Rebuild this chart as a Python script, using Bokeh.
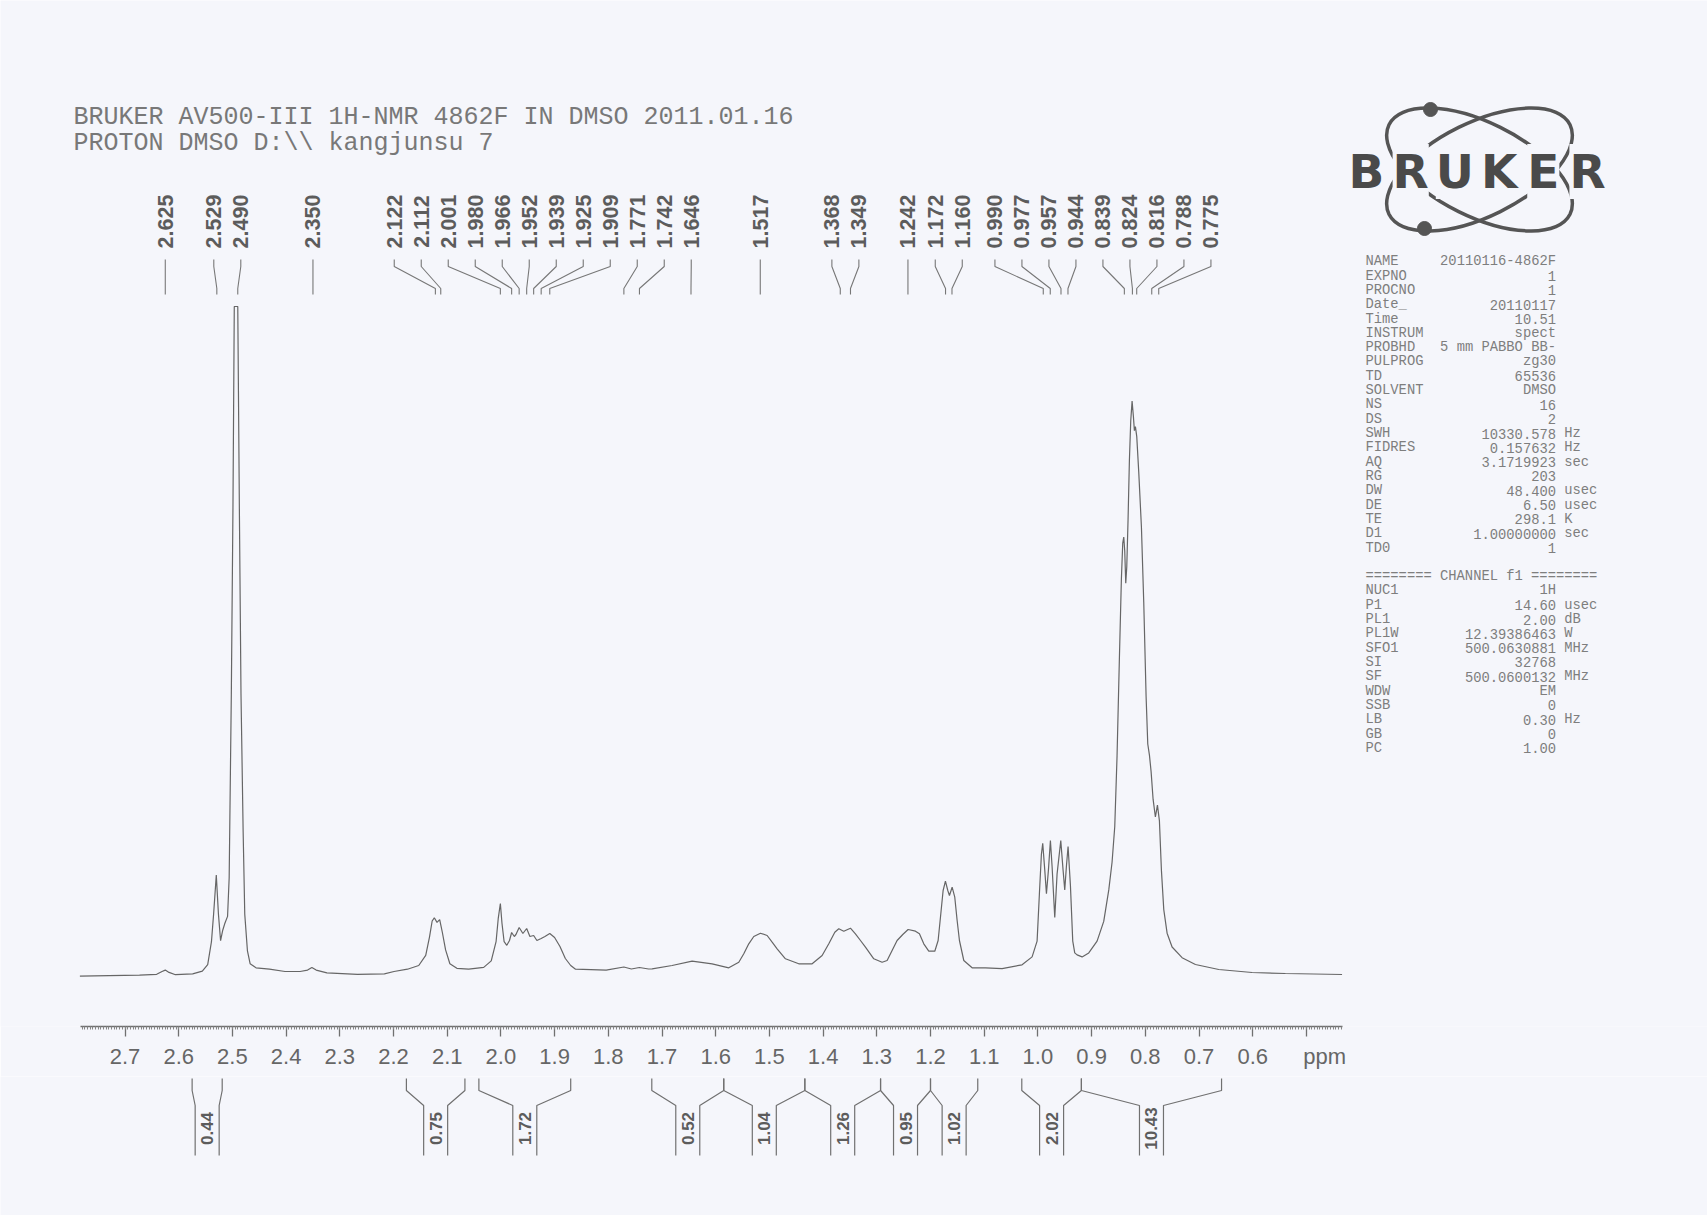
import math
import numpy as np
from bokeh.plotting import figure
from bokeh.models import Range1d, FixedTicker, Label
from bokeh.layouts import column
from bokeh.embed import file_html
from bokeh.resources import INLINE
from bokeh.core.properties import value

# ---------------- data ----------------
TITLE_LINES = ["BRUKER AV500-III 1H-NMR 4862F IN DMSO 2011.01.16",
               "PROTON DMSO D:\\\\ kangjunsu 7"]

SPEC_PPM = [2.784, 2.730, 2.673, 2.641, 2.631, 2.625, 2.618, 2.606, 2.574, 2.556,
            2.546, 2.539, 2.535, 2.530, 2.526, 2.522, 2.518, 2.514, 2.509, 2.506,
            2.502, 2.499, 2.4965, 2.490, 2.487, 2.484, 2.480, 2.477, 2.472, 2.467,
            2.456, 2.431, 2.402, 2.374, 2.360, 2.352, 2.344, 2.324, 2.267, 2.217,
            2.199, 2.174, 2.153, 2.140, 2.133, 2.128, 2.124, 2.119, 2.114, 2.109,
            2.103, 2.095, 2.082, 2.060, 2.032, 2.018, 2.009, 2.005, 2.001, 1.998,
            1.994, 1.989, 1.984, 1.980, 1.975, 1.972, 1.966, 1.959, 1.952, 1.946,
            1.939, 1.933, 1.925, 1.918, 1.909, 1.900, 1.890, 1.880, 1.870, 1.861,
            1.804, 1.771, 1.757, 1.742, 1.725,
            1.7184, 1.6812, 1.6439, 1.6067, 1.5756, 1.5570, 1.5477, 1.5384, 1.5291, 1.5167,
            1.5042, 1.4949, 1.4856, 1.4701, 1.4453, 1.4204, 1.4018, 1.3894, 1.3782, 1.3708,
            1.3615, 1.3491, 1.3398, 1.3304, 1.3211, 1.3056, 1.2901, 1.2808, 1.2715, 1.2622,
            1.2516, 1.2417, 1.2280, 1.2206, 1.2125, 1.2032, 1.1920, 1.1858, 1.1808, 1.1765,
            1.1722, 1.1678, 1.1647, 1.1597, 1.1548, 1.1504, 1.1461, 1.1380, 1.1225, 1.0977,
            1.0667, 1.0295, 1.0108, 1.0015, 0.9972, 0.9935, 0.9910, 0.9872, 0.9841, 0.9804,
            0.9767, 0.9736, 0.9686, 0.9643, 0.9574, 0.9531, 0.9500, 0.9469, 0.9438, 0.9394,
            0.9351, 0.9314, 0.9270, 0.9177, 0.9053, 0.8898, 0.8774, 0.8680, 0.8619, 0.8569,
            0.8526, 0.8482, 0.8445, 0.8420, 0.8401, 0.8383, 0.8364, 0.8345, 0.8321, 0.8296,
            0.8271, 0.8246, 0.8221, 0.8203, 0.8184, 0.8159, 0.8122, 0.8072, 0.8029, 0.7985,
            0.7954, 0.7923, 0.7892, 0.7855, 0.7812, 0.7774, 0.7737, 0.7700, 0.7656, 0.7594,
            0.7501, 0.7315, 0.7067, 0.6632, 0.6011, 0.5391, 0.4336]

SPEC_INT = [0.4, 0.9, 1.3, 2.2, 5.0, 6.4, 4.1, 1.8, 2.7, 5.4,
            11.9, 34.8, 62.4, 101.4, 62.4, 35.8, 46.3, 53.2, 60.1, 99.1,
            282.8, 466.4, 670.0, 670.0, 466.4, 282.8, 145.0, 62.4, 25.7, 12.8,
            8.7, 7.3, 5.0, 5.0, 6.4, 9.1, 6.4, 3.6, 2.2, 2.7,
            5.0, 7.3, 11.0, 21.1, 39.4, 55.5, 58.7, 54.1, 56.9, 44.0,
            26.6, 12.8, 8.2, 7.3, 9.1, 15.6, 34.8, 57.8, 73.0, 53.2,
            34.8, 31.2, 36.0, 44.0, 40.0, 42.0, 49.0, 43.0, 48.0, 40.0,
            41.0, 36.0, 38.0, 40.0, 43.0, 39.0, 30.0, 18.0, 11.0, 7.3,
            6.4, 9.5, 7.5, 9.0, 7.5,
            7.7, 11.0, 15.3, 12.7, 8.7, 14.3, 22.7, 32.7, 40.0, 43.3,
            41.0, 34.3, 27.7, 17.7, 12.7, 12.7, 21.0, 32.7, 44.3, 47.7,
            45.3, 48.3, 42.7, 36.0, 29.3, 17.7, 14.3, 16.0, 26.0, 36.0,
            42.0, 47.0, 45.3, 42.7, 32.7, 25.3, 25.3, 36.0, 62.7, 86.0,
            95.3, 86.0, 81.0, 89.3, 79.3, 56.0, 36.0, 16.0, 8.7, 8.7,
            7.8, 11.7, 19.6, 35.4, 82.7, 122.1, 133.1, 106.4, 82.7, 106.4,
            135.9, 110.3, 59.0, 102.4, 135.9, 106.4, 86.6, 110.3, 130.0, 90.6,
            35.4, 23.6, 21.6, 19.6, 23.6, 35.4, 55.1, 86.6, 114.2, 149.7,
            220.6, 319.2, 398.0, 433.5, 439.4, 425.6, 393.3, 409.8, 457.1, 516.3,
            555.7, 575.4, 559.6, 545.8, 549.8, 539.9, 504.4, 449.3, 374.4, 279.8,
            232.5, 221.4, 204.9, 177.3, 159.5, 171.4, 155.6, 106.4, 66.9, 43.3,
            29.5, 18.8, 12.0, 7.0, 4.0, 3.0, 2.0]

PEAK_LABELS = [2.625, 2.529, 2.490, 2.350, 2.122, 2.112, 2.001, 1.980, 1.966, 1.952,
               1.939, 1.925, 1.909, 1.771, 1.742, 1.646, 1.517, 1.368, 1.349, 1.242,
               1.172, 1.160, 0.990, 0.977, 0.957, 0.944, 0.839, 0.824, 0.816, 0.788,
               0.775]

INTEGRAL_START = [2.575, 2.176, 2.041, 1.719, 1.585, 1.434, 1.293, 1.200, 1.030, 0.919]
INTEGRAL_END = [2.519, 2.067, 1.870, 1.585, 1.434, 1.293, 1.200, 1.112, 0.919, 0.658]
INTEGRAL_VALUES = ["0.44", "0.75", "1.72", "0.52", "1.04", "1.26", "0.95", "1.02", "2.02", "10.43"]

AXIS_TICKS = [2.7, 2.6, 2.5, 2.4, 2.3, 2.2, 2.1, 2.0, 1.9, 1.8, 1.7, 1.6, 1.5, 1.4,
              1.3, 1.2, 1.1, 1.0, 0.9, 0.8, 0.7, 0.6, 0.5]
AXIS_UNIT = "ppm"
AXIS_TICK_LABELS = ["2.7", "2.6", "2.5", "2.4", "2.3", "2.2", "2.1", "2.0", "1.9", "1.8",
                    "1.7", "1.6", "1.5", "1.4", "1.3", "1.2", "1.1", "1.0", "0.9", "0.8",
                    "0.7", "0.6", "\u00a0" * 6 + AXIS_UNIT]
AXIS_SPAN = (0.433, 2.783)

PARAM_NAMES = ["NAME", "EXPNO", "PROCNO", "Date_", "Time", "INSTRUM", "PROBHD", "PULPROG",
               "TD", "SOLVENT", "NS", "DS", "SWH", "FIDRES", "AQ", "RG", "DW", "DE", "TE",
               "D1", "TD0"]
PARAM_VALUES = ["20110116-4862F", "1", "1", "20110117", "10.51", "spect", "5 mm PABBO BB-",
                "zg30", "65536", "DMSO", "16", "2", "10330.578", "0.157632", "3.1719923",
                "203", "48.400", "6.50", "298.1", "1.00000000", "1"]
PARAM_UNITS = ["", "", "", "", "", "", "", "", "", "", "", "", "Hz", "Hz", "sec", "",
               "usec", "usec", "K", "sec", ""]

CHANNEL_HEADER = "======== CHANNEL f1 ========"
CH_NAMES = ["NUC1", "P1", "PL1", "PL1W", "SFO1", "SI", "SF", "WDW", "SSB", "LB", "GB", "PC"]
CH_VALUES = ["1H", "14.60", "2.00", "12.39386463", "500.0630881", "32768", "500.0600132",
             "EM", "0", "0.30", "0", "1.00"]
CH_UNITS = ["", "usec", "dB", "W", "MHz", "", "MHz", "", "", "Hz", "", ""]

LOGO_TEXT = "BRUKER"

# ---------------- page geometry / style ----------------
BG = "#f5f6fb"
INK = "#666666"
PAGE_W, PAGE_H = 1707, 1215
PX_PER_PPM = 537.0
PX_AT_2P7 = 124.5
BASE_Y = 976.0
AXIS_Y = 1026
BOTTOM_BORDER = 50


def ppm_at(px):
    return 2.7 - (px - PX_AT_2P7) / PX_PER_PPM


def px_at(ppm):
    return PX_AT_2P7 + (2.7 - ppm) * PX_PER_PPM


def iy(py):
    return BASE_Y - py


def spread(pos, w):
    clusters = [[p] for p in pos]

    def bnd(c):
        m = sum(c) / len(c)
        h = (len(c) - 1) / 2.0 * w
        return m - h, m + h

    changed = True
    while changed:
        changed = False
        for j in range(len(clusters) - 1):
            if bnd(clusters[j + 1])[0] - bnd(clusters[j])[1] < w:
                clusters[j] = clusters[j] + clusters.pop(j + 1)
                changed = True
                break
    out = []
    for c in clusters:
        lo, _ = bnd(c)
        out += [lo + k * w for k in range(len(c))]
    return out


W = PAGE_W
H1 = AXIS_Y + BOTTOM_BORDER
H2 = PAGE_H - H1

xr = Range1d(ppm_at(0), ppm_at(W))

p1 = figure(width=W, height=H1, x_range=xr, y_range=Range1d(iy(AXIS_Y), iy(0)),
            output_backend="svg", toolbar_location=None, y_axis_location=None,
            min_border_left=0, min_border_right=0, min_border_top=0,
            min_border_bottom=BOTTOM_BORDER, background_fill_color=BG,
            border_fill_color=BG, outline_line_color=None)
p1.grid.visible = False

ax = p1.xaxis[0]
ax.ticker = FixedTicker(ticks=AXIS_TICKS,
                        minor_ticks=[float(v) for v in np.round(np.arange(0.435, 2.7826, 0.005), 3)])
ax.major_label_overrides = {t: l for t, l in zip(AXIS_TICKS, AXIS_TICK_LABELS)}
ax.bounds = AXIS_SPAN
ax.axis_line_color = "#707070"
ax.axis_line_width = 1.3
ax.major_tick_line_color = "#707070"
ax.major_tick_line_width = 1.3
ax.major_tick_in = 0
ax.major_tick_out = 10
ax.minor_tick_line_color = "#858585"
ax.minor_tick_in = 0
ax.minor_tick_out = 3
ax.major_label_text_font = "Liberation Sans"
ax.major_label_text_font_size = "22px"
ax.major_label_text_color = INK
ax.major_label_standoff = 7

# spectrum
p1.line(SPEC_PPM, SPEC_INT, line_color="#666666", line_width=1.2)

# header
p1.text(x=[ppm_at(73)] * 2, y=[iy(117), iy(143)], text=TITLE_LINES, text_align="left",
        text_baseline="alphabetic", text_font=value("Liberation Mono"),
        text_font_size="25px", text_color="#787878")

# peak labels
lab_px = spread([px_at(v) for v in PEAK_LABELS], 27.0)
xs = [[ppm_at(lx), ppm_at(lx), v, v] for lx, v in zip(lab_px, PEAK_LABELS)]
ys = [[iy(259), iy(266), iy(288), iy(294)] for _ in PEAK_LABELS]
p1.multi_line(xs, ys, line_color="#777777", line_width=1.1)
p1.text(x=[ppm_at(lx) for lx in lab_px], y=[iy(221)] * len(PEAK_LABELS),
        text=["%.3f" % v for v in PEAK_LABELS], angle=math.pi / 2, text_align="center",
        text_baseline="middle", text_font=value("Liberation Sans"), text_font_style="bold",
        text_font_size="21.5px", text_color="#5c5c5c")

# parameter table
rows_y = [261.3 + 14.31 * i for i in range(len(PARAM_NAMES))]
ch_head_y = 261.3 + 14.31 * (len(PARAM_NAMES) + 1)
ch_y = [ch_head_y + 14.31 * (i + 1) for i in range(len(CH_NAMES))]
tab_font = dict(text_font=value("Liberation Mono"), text_font_size="13.8px",
                text_color="#7e7e7e", text_baseline="middle")
all_names = PARAM_NAMES + [CHANNEL_HEADER] + CH_NAMES
all_y = rows_y + [ch_head_y] + ch_y
p1.text(x=[ppm_at(1365)] * len(all_names), y=[iy(v) for v in all_y], text=all_names,
        text_align="left", **tab_font)
vals = PARAM_VALUES + CH_VALUES
vy = rows_y + ch_y
p1.text(x=[ppm_at(1555.5)] * len(vals), y=[iy(v) for v in vy], text=vals,
        text_align="right", **tab_font)
units = PARAM_UNITS + CH_UNITS
p1.text(x=[ppm_at(1563.7)] * len(units), y=[iy(v) for v in vy], text=units,
        text_align="left", **tab_font)

# logo
p1.ellipse(x=[ppm_at(1479)] * 2, y=[iy(169)] * 2, width=202, height=94,
           width_units="screen", height_units="screen", angle=[-0.46, 0.46],
           fill_color=None, line_color="#555555", line_width=3.5)
p1.scatter(x=[ppm_at(1430), ppm_at(1424)], y=[iy(109), iy(228)], size=14,
           color="#555555")
for i, ch in enumerate(LOGO_TEXT):
    p1.add_layout(Label(x=ppm_at(1366 + 44.2 * i), y=iy(171), text=ch,
                        text_align="center", text_baseline="middle",
                        text_font="DejaVu Sans", text_font_style="bold",
                        text_font_size="47px", text_color="#4a4a4a",
                        background_fill_color=BG))

# ---------------- integrals ----------------
p2 = figure(width=W, height=H2, x_range=xr, y_range=Range1d(PAGE_H, H1),
            output_backend="svg", toolbar_location=None, x_axis_location=None,
            y_axis_location=None, min_border=0, background_fill_color=BG,
            border_fill_color=BG, outline_line_color=None)
p2.grid.visible = False

gap = 12.0 / PX_PER_PPM
ixs, iys, cx = [], [], []
for a, b in zip(INTEGRAL_START, INTEGRAL_END):
    c = (a + b) / 2.0
    cx.append(c)
    ixs.append([a, a, c + gap, c + gap])
    ixs.append([b, b, c - gap, c - gap])
    iys.append([1078, 1090, 1105, 1155])
    iys.append([1078, 1090, 1105, 1155])
p2.multi_line(ixs, iys, line_color="#707070", line_width=1.2)
p2.text(x=cx, y=[1128] * len(cx), text=INTEGRAL_VALUES, angle=math.pi / 2,
        text_align="center", text_baseline="middle", text_font=value("Liberation Sans"),
        text_font_style="bold", text_font_size="17px", text_color="#5c5c5c")

layout = column(p1, p2)
open("out.html", "w").write(file_html(layout, INLINE, "NMR"))
